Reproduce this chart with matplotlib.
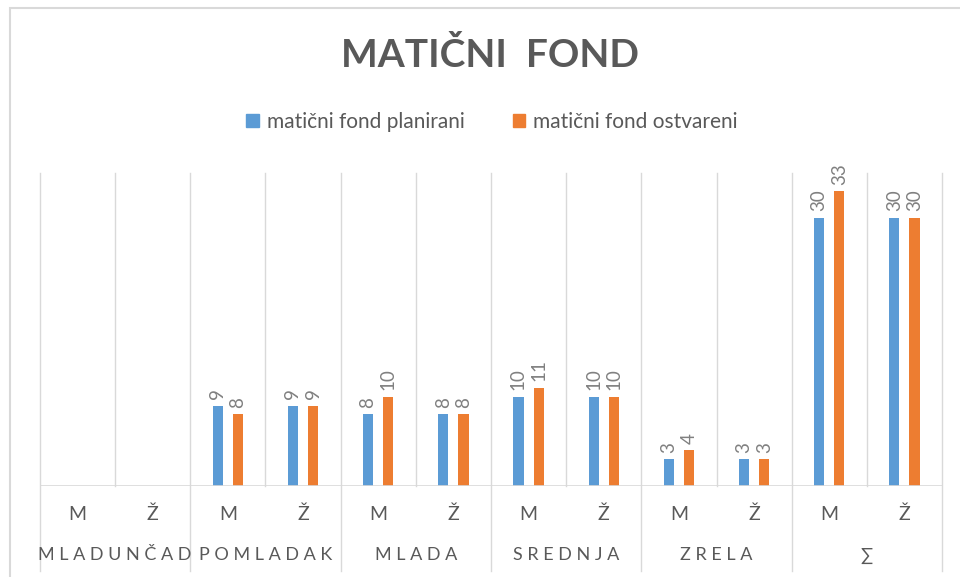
import matplotlib.pyplot as plt
from matplotlib.patches import Rectangle
from matplotlib.transforms import blended_transform_factory

groups = ['MLADUNČAD', 'POMLADAK', 'MLADA', 'SREDNJA', 'ZRELA', '∑']
sub = ['M', 'Ž']
planirani = [None, None, 9, 9, 8, 8, 10, 10, 3, 3, 30, 30]
ostvareni = [None, None, 8, 9, 10, 8, 11, 10, 4, 3, 33, 30]

blue = '#5b9bd5'
orange = '#ed7d31'
grid = '#d9d9d9'
txt = '#595959'

plt.rcParams['font.family'] = ['Lato', 'DejaVu Sans']

fig = plt.figure(figsize=(9.6, 5.77), dpi=100)
fig.patches.append(Rectangle((10 / 960, -0.1), 1.2, (1 - 8 / 577) + 0.1,
                             transform=fig.transFigure, fill=False,
                             edgecolor=grid, lw=1.5))
ax = fig.add_axes([40 / 960, 1 - 486 / 577, 902 / 960, 313 / 577])

n = len(planirani)
w = 0.135
off = 0.135
for i in range(n):
    for val, dx, c in [(planirani[i], -off, blue), (ostvareni[i], off, orange)]:
        if val is None:
            continue
        ax.bar(i + dx, val, width=w, color=c)
        ax.text(i + dx, val + 0.7, str(val), rotation=90, ha='center',
                va='bottom', fontsize=13.5, color='#808080')

ax.set_xlim(-0.5, n - 0.5)
ax.set_ylim(0, 35)
ax.set_xticks([])
ax.set_yticks([])
for s in ax.spines.values():
    s.set_visible(False)
ax.axhline(0, color=grid, lw=1.2)

trans = blended_transform_factory(ax.transData, ax.transAxes)
for k in range(n + 1):
    xb = k - 0.5
    low = -0.27 if k % 2 == 0 else 0
    ax.plot([xb, xb], [low, 1], transform=trans, color=grid, lw=1,
            clip_on=False)

for i in range(n):
    ax.text(i, -0.09, sub[i % 2], transform=trans, ha='center',
            va='center', fontsize=14, color=txt)
for g, name in enumerate(groups):
    ax.text(2 * g + 0.5, -0.222, ' '.join(name), transform=trans,
            ha='center', va='center', fontsize=13, color=txt)

fig.text(490 / 960, 1 - 55 / 577, 'MATIČNI  FOND', ha='center', va='center',
         fontsize=28, fontweight='bold', color=txt)

handles = [Rectangle((0, 0), 1, 1, color=blue), Rectangle((0, 0), 1, 1, color=orange)]
fig.legend(handles, ['matični fond planirani', 'matični fond ostvareni'],
           loc='center', bbox_to_anchor=(492 / 960, 1 - 122 / 577), ncol=2,
           frameon=False, fontsize=15, handlelength=0.6, handleheight=0.6,
           handletextpad=0.4, columnspacing=2.3, labelcolor=txt)

fig.savefig('out.png', dpi=100)
